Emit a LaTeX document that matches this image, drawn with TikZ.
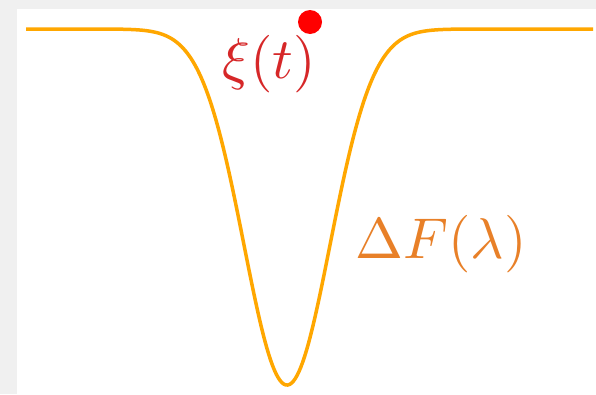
\documentclass[tikz,border=0pt]{standalone}
\usepackage{graphicx}
\usepackage{tikz}
\definecolor{bggray}{RGB}{240,240,240}
\definecolor{curveorange}{RGB}{255,167,0}
\definecolor{labelorange}{RGB}{232,128,40}
\definecolor{labelred}{RGB}{214,39,40}
\begin{document}
\begin{tikzpicture}[x=1pt,y=-1pt,
  curve/.style={draw=curveorange,line width=3.5pt,line join=round},
  biglabel/.style={inner sep=0pt,anchor=base}]
\useasboundingbox (0,0) rectangle (596,394);
\fill[bggray] (0,0) rectangle (596,394);
\fill[white] (17,9) rectangle (596,394);
\draw[curve] plot[domain=26:593,samples=300] (\x,{29+356*exp(-0.5*((\x-287)/43)^2)});
\fill[red] (310,22) circle[radius=12];
\node[biglabel,text=labelred] (xi) at (269,78) {\scalebox{5.75}{$\xi(t)$}};
\node[biglabel,text=labelorange] (dF) at (441,258) {\scalebox{5.75}{$\Delta F(\lambda)$}};
\end{tikzpicture}
\end{document}
